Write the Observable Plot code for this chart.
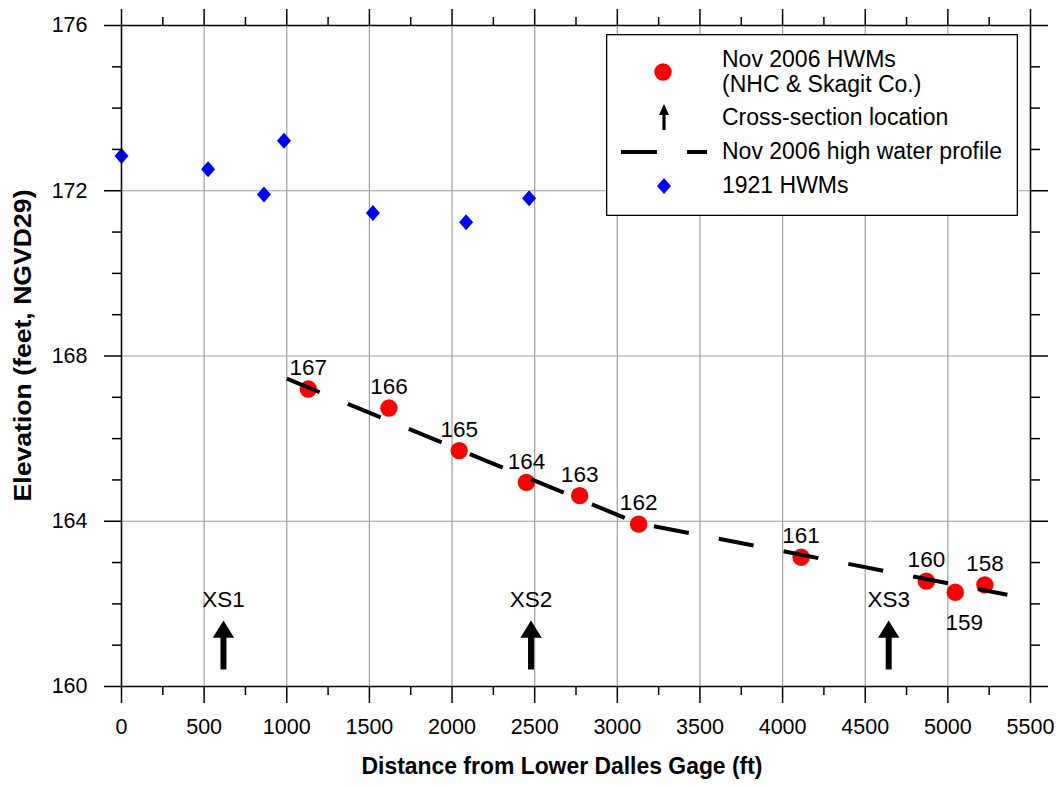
<!DOCTYPE html>
<html>
<head>
<meta charset="utf-8">
<script src="https://cdn.jsdelivr.net/npm/d3@7"></script>
<script src="https://cdn.jsdelivr.net/npm/@observablehq/plot@0.6"></script>
<style>
  html, body { margin: 0; padding: 0; background: #fff; }
  #wrap { position: relative; width: 1058px; height: 787px; font-family: "Liberation Sans", Arial, sans-serif; }
  #legend { position: absolute; left: 606px; top: 34px; }
</style>
</head>
<body>
<div id="wrap"></div>
<script>
// Nov 2006 high water marks (NHC & Skagit Co.)
const hwmId = ["167", "166", "165", "164", "163", "162", "161", "160", "159", "158"];
const hwmDist = [1130, 1618, 2043, 2450, 2772, 3129, 4112, 4870, 5045, 5224];
const hwmElev = [167.20, 166.74, 165.71, 164.94, 164.62, 163.93, 163.13, 162.55, 162.28, 162.46];

// 1921 high water marks
const hwm1921Dist = [0, 524, 862, 983, 1521, 2085, 2466];
const hwm1921Elev = [172.84, 172.52, 171.91, 173.21, 171.46, 171.24, 171.82];

// Nov 2006 high water profile
const profileDist = [1000, 3120, 5360];
const profileElev = [167.45, 163.96, 162.22];

// Cross-section locations
const xsName = ["XS1", "XS2", "XS3"];
const xsDist = [617, 2478, 4642];
const xsArrowBase = [160.4, 160.4, 160.4];
const xsArrowTip = [161.6, 161.6, 161.6];

// Axis ticks
const xMajorTicks = [0, 500, 1000, 1500, 2000, 2500, 3000, 3500, 4000, 4500, 5000, 5500];
const xMinorTicks = [250, 750, 1250, 1750, 2250, 2750, 3250, 3750, 4250, 4750, 5250];
const yMajorTicks = [160, 164, 168, 172, 176];
const yMinorTicks = [161, 162, 163, 165, 166, 167, 169, 170, 171, 173, 174, 175];

const xTitle = "Distance from Lower Dalles Gage (ft)";
const yTitle = "Elevation (feet, NGVD29)";

const hwm = hwmId.map((id, i) => ({id, dist: hwmDist[i], elev: hwmElev[i]}));
const hwm1921 = hwm1921Dist.map((d, i) => ({dist: d, elev: hwm1921Elev[i]}));
const profile = profileDist.map((d, i) => ({dist: d, elev: profileElev[i]}));
const xs = xsName.map((name, i) => ({name, dist: xsDist[i], base: xsArrowBase[i], tip: xsArrowTip[i]}));

// Filled arrow head, apex at the anchor point, opening downward
const arrowHead = {
  draw(ctx) {
    ctx.moveTo(0, 0);
    ctx.lineTo(10.7, 17.3);
    ctx.lineTo(-10.7, 17.3);
    ctx.closePath();
  }
};
// Square diamond, slightly taller than wide
const diamond = {
  draw(ctx) {
    ctx.moveTo(0, -8);
    ctx.lineTo(7, 0);
    ctx.lineTo(0, 8);
    ctx.lineTo(-7, 0);
    ctx.closePath();
  }
};

const frameStyle = {stroke: "black", strokeWidth: 1.5, strokeOpacity: 1, label: null};
const noText = () => "";
const font = "Liberation Sans, Arial, sans-serif";

const chart = Plot.plot({
  width: 1058,
  height: 787,
  marginLeft: 121,
  marginRight: 28,
  marginTop: 25,
  marginBottom: 101,
  style: {fontFamily: font, fontSize: "21.5px", background: "white", color: "black", overflow: "visible"},
  x: {domain: [0, 5500], label: null},
  y: {domain: [160, 176], label: null},
  marks: [
    Plot.gridX({ticks: xMajorTicks, stroke: "#a0a0a0", strokeOpacity: 1, strokeWidth: 1.2}),
    Plot.gridY({ticks: yMajorTicks, stroke: "#a0a0a0", strokeOpacity: 1, strokeWidth: 1.2}),

    Plot.dot(hwm1921, {x: "dist", y: "elev", symbol: diamond, fill: "#0000ff", stroke: "none"}),
    Plot.dot(hwm, {x: "dist", y: "elev", r: 8.7, fill: "#ff0000", stroke: "none"}),
    Plot.line(profile, {x: "dist", y: "elev", stroke: "black", strokeWidth: 4, strokeDasharray: "35.5,30.5", strokeLinecap: "butt"}),

    Plot.ruleX(xs, {x: "dist", y1: "tip", y2: "base", stroke: "black", strokeWidth: 6, insetTop: 14}),
    Plot.dot(xs, {x: "dist", y: "tip", symbol: arrowHead, fill: "black", stroke: "none"}),
    Plot.text(xs, {x: "dist", y: "tip", text: "name", dy: -21, fontSize: 22.5, fill: "black"}),

    Plot.text(hwm.filter(d => d.id !== "159"), {x: "dist", y: "elev", text: "id", dy: -21, fontSize: 22.5, fill: "black"}),
    Plot.text(hwm.filter(d => d.id === "159"), {x: "dist", y: "elev", text: "id", dx: 9, dy: 30, fontSize: 22.5, fill: "black"}),

    // Four-sided tick frame: major and minor ticks point outward
    Plot.axisX({anchor: "bottom", ticks: xMajorTicks, tickSize: 17, tickPadding: 15, tickFormat: d => String(d), fontSize: 21.5, ...frameStyle}),
    Plot.axisX({anchor: "bottom", ticks: xMinorTicks, tickSize: 9, tickFormat: noText, ...frameStyle}),
    Plot.axisX({anchor: "top", ticks: xMajorTicks, tickSize: 17, tickFormat: noText, ...frameStyle}),
    Plot.axisX({anchor: "top", ticks: xMinorTicks, tickSize: 9, tickFormat: noText, ...frameStyle}),
    Plot.axisY({anchor: "left", ticks: yMajorTicks, tickSize: 17, tickPadding: 17, tickFormat: d => String(d), fontSize: 21.5, ...frameStyle}),
    Plot.axisY({anchor: "left", ticks: yMinorTicks, tickSize: 9, tickFormat: noText, ...frameStyle}),
    Plot.axisY({anchor: "right", ticks: yMajorTicks, tickSize: 17, tickFormat: noText, ...frameStyle}),
    Plot.axisY({anchor: "right", ticks: yMinorTicks, tickSize: 9, tickFormat: noText, ...frameStyle}),
    Plot.frame({stroke: "black", strokeWidth: 1.5}),

    Plot.text([xTitle], {frameAnchor: "bottom", dx: -14, dy: 87.5, fontSize: 23, fontWeight: "bold", fill: "black"}),
    Plot.text([yTitle], {frameAnchor: "left", rotate: -90, dx: -98, dy: -10.5, fontSize: 23, fontWeight: "bold", fill: "black"})
  ]
});

// The axis titles are drawn slightly stretched along their length; they are
// start-anchored at minus half their length so they stay centred.
const stretch = [[yTitle, 312], [xTitle, 401]];
for (const t of chart.querySelectorAll("text")) {
  for (const [s, len] of stretch) {
    if (t.textContent === s) {
      t.setAttribute("textLength", len);
      t.setAttribute("lengthAdjust", "spacingAndGlyphs");
      t.setAttribute("text-anchor", "start");
      t.setAttribute("x", -len / 2);
    }
  }
}

const wrap = document.getElementById("wrap");
wrap.appendChild(chart);

// Legend box
const legend = d3.create("svg")
  .attr("id", "legend")
  .attr("width", 412)
  .attr("height", 182)
  .style("font-family", font)
  .style("font-size", "23px");
legend.append("rect").attr("x", 0.65).attr("y", 0.65).attr("width", 410.7).attr("height", 180.7)
  .attr("fill", "white").attr("stroke", "black").attr("stroke-width", 1.3);
legend.append("circle").attr("cx", 57).attr("cy", 38).attr("r", 8.7).attr("fill", "#ff0000");
legend.append("line").attr("x1", 58).attr("x2", 58).attr("y1", 78).attr("y2", 96).attr("stroke", "black").attr("stroke-width", 3.2);
legend.append("path").attr("d", "M58,70L63,81L53,81Z").attr("fill", "black");
legend.append("line").attr("x1", 15).attr("x2", 51).attr("y1", 118).attr("y2", 118).attr("stroke", "black").attr("stroke-width", 4);
legend.append("line").attr("x1", 81).attr("x2", 101).attr("y1", 118).attr("y2", 118).attr("stroke", "black").attr("stroke-width", 4);
legend.append("path").attr("d", "M58,144L65,152L58,160L51,152Z").attr("fill", "#0000ff");
const legendText = [
  ["Nov 2006 HWMs", 33],
  ["(NHC & Skagit Co.)", 58],
  ["Cross-section location", 91],
  ["Nov 2006 high water profile", 125],
  ["1921 HWMs", 159]
];
for (const [s, y] of legendText) {
  legend.append("text").attr("x", 116).attr("y", y).attr("fill", "black").text(s);
}
wrap.appendChild(legend.node());
</script>
</body>
</html>
